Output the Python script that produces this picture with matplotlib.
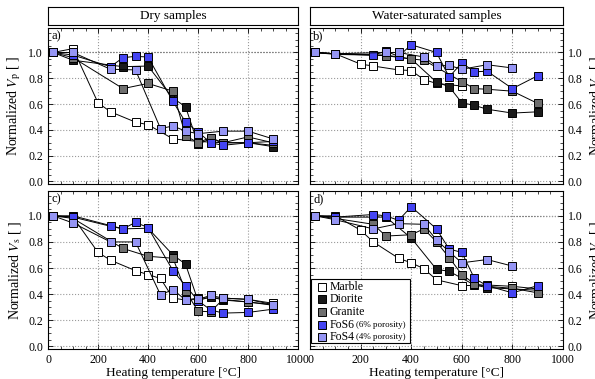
import numpy as np
import matplotlib.pyplot as plt
from matplotlib.ticker import MultipleLocator
from matplotlib.patches import Rectangle

plt.rcParams['font.family'] = ['Liberation Serif', 'DejaVu Serif']
plt.rcParams['mathtext.fontset'] = 'stix'

names = ['Marble', 'Diorite', 'Granite', 'FoS6', 'FoS4']
extra = ['', '', '', '(6% porosity)', '(4% porosity)']
colors = ['#ffffff', '#1a1a1a', '#6e6e6e', '#4444f2', '#9595f4']

# a) dry, Vp
dry_vp = {
    'Marble': ([20, 100, 200, 250, 350, 400, 500, 600, 700, 800, 900],
               [1.0, 1.03, 0.61, 0.54, 0.46, 0.44, 0.33, 0.31, 0.30, 0.30, 0.28]),
    'Diorite': ([20, 100, 300, 400, 500, 550, 600, 650, 700, 800, 900],
                [1.0, 0.94, 0.89, 0.895, 0.645, 0.58, 0.29, 0.33, 0.30, 0.30, 0.27]),
    'Granite': ([20, 100, 300, 400, 500, 550, 600, 650, 700, 800, 900],
                [1.0, 0.96, 0.72, 0.76, 0.70, 0.355, 0.30, 0.34, 0.30, 0.345, 0.30]),
    'FoS6': ([20, 100, 250, 300, 350, 400, 500, 550, 600, 650, 700, 800, 900],
             [1.0, 0.98, 0.89, 0.96, 0.97, 0.965, 0.62, 0.46, 0.385, 0.30, 0.28, 0.30, 0.31]),
    'FoS4': ([20, 100, 250, 350, 450, 500, 550, 600, 700, 800, 900],
             [1.0, 1.0, 0.87, 0.865, 0.41, 0.43, 0.39, 0.37, 0.39, 0.39, 0.33]),
}
# b) water-saturated, Vp
wet_vp = {
    'Marble': ([20, 100, 200, 250, 350, 400, 450, 500, 600],
               [1.0, 0.99, 0.91, 0.895, 0.865, 0.86, 0.79, 0.76, 0.74]),
    'Diorite': ([20, 100, 300, 400, 500, 550, 600, 650, 700, 800, 900],
                [1.0, 0.99, 0.98, 0.95, 0.77, 0.735, 0.61, 0.59, 0.56, 0.53, 0.54]),
    'Granite': ([20, 100, 300, 400, 450, 600, 650, 700, 800, 900],
                [1.0, 0.99, 0.975, 0.95, 0.94, 0.775, 0.72, 0.715, 0.70, 0.605]),
    'FoS6': ([20, 100, 250, 300, 350, 400, 500, 550, 600, 650, 700, 800, 900],
             [1.0, 0.985, 0.98, 1.01, 0.97, 1.06, 1.0, 0.81, 0.92, 0.85, 0.855, 0.72, 0.82]),
    'FoS4': ([20, 100, 300, 350, 450, 500, 550, 600, 700, 800],
             [1.0, 0.99, 1.0, 1.0, 0.965, 0.895, 0.90, 0.87, 0.905, 0.88]),
}
# c) dry, Vs
dry_vs = {
    'Marble': ([20, 100, 200, 250, 350, 400, 450, 500, 550, 600, 700, 800, 900],
               [1.0, 0.99, 0.72, 0.66, 0.58, 0.55, 0.52, 0.37, 0.355, 0.37, 0.37, 0.36, 0.33]),
    'Diorite': ([20, 100, 300, 400, 500, 550, 600, 650, 700, 800, 900],
                [1.0, 1.0, 0.90, 0.905, 0.70, 0.63, 0.35, 0.38, 0.355, 0.34, 0.315]),
    'Granite': ([20, 100, 300, 400, 500, 550, 600, 650, 700, 800, 900],
                [1.0, 0.98, 0.75, 0.69, 0.675, 0.425, 0.27, 0.265, 0.36, 0.34, 0.32]),
    'FoS6': ([20, 100, 250, 300, 350, 400, 500, 550, 600, 650, 700, 800, 900],
             [1.0, 0.99, 0.92, 0.90, 0.95, 0.91, 0.58, 0.465, 0.35, 0.28, 0.255, 0.26, 0.285]),
    'FoS4': ([20, 100, 250, 350, 450, 500, 550, 600, 650, 700, 800, 900],
             [1.0, 0.945, 0.80, 0.80, 0.395, 0.435, 0.355, 0.36, 0.39, 0.37, 0.36, 0.32]),
}
# d) water-saturated, Vs
wet_vs = {
    'Marble': ([20, 100, 200, 250, 350, 400, 450, 500, 600, 700, 800, 900],
               [1.0, 1.0, 0.89, 0.80, 0.675, 0.64, 0.595, 0.51, 0.465, 0.47, 0.46, 0.44]),
    'Diorite': ([20, 100, 300, 400, 500, 550, 650, 700, 800, 900],
                [1.0, 0.99, 0.99, 0.83, 0.59, 0.575, 0.47, 0.45, 0.44, 0.43]),
    'Granite': ([20, 100, 250, 300, 400, 450, 500, 550, 600, 650, 700, 800, 900],
                [1.0, 0.98, 0.935, 0.845, 0.855, 0.90, 0.80, 0.68, 0.55, 0.48, 0.46, 0.445, 0.41]),
    'FoS6': ([20, 100, 250, 300, 350, 400, 500, 550, 600, 650, 700, 800, 900],
             [1.0, 0.99, 1.01, 1.0, 0.965, 1.07, 0.90, 0.745, 0.72, 0.52, 0.465, 0.41, 0.465]),
    'FoS4': ([20, 100, 250, 350, 450, 500, 550, 600, 700, 800],
             [1.0, 0.97, 0.90, 0.94, 0.935, 0.815, 0.725, 0.64, 0.665, 0.615]),
}

fig = plt.figure(figsize=(5.95, 3.79), dpi=100)
W, H = 595, 379

def px_axes(x0, y0, x1, y1):
    return fig.add_axes([x0 / W, 1 - y1 / H, (x1 - x0) / W, (y1 - y0) / H])

ax_a = px_axes(48, 28, 298, 184)
ax_b = px_axes(310, 28, 563, 184)
ax_c = px_axes(48, 191, 298, 349)
ax_d = px_axes(310, 191, 563, 349)

panels = [(ax_a, dry_vp, 'a)'), (ax_b, wet_vp, 'b)'), (ax_c, dry_vs, 'c)'), (ax_d, wet_vs, 'd)')]

for ax, data, tag in panels:
    ax.set_xlim(0, 1000)
    ax.set_ylim(-0.02, 1.19)
    ax.xaxis.set_major_locator(MultipleLocator(200))
    ax.xaxis.set_minor_locator(MultipleLocator(50))
    ax.yaxis.set_major_locator(MultipleLocator(0.2))
    ax.yaxis.set_minor_locator(MultipleLocator(0.05))
    ax.tick_params(which='both', direction='in', top=True, right=True, labelsize=8.5)
    ax.tick_params(which='major', length=3.5, width=0.6)
    ax.tick_params(which='minor', length=2, width=0.5)
    ax.grid(True, which='major', color='#9a9a9a', linestyle=':', linewidth=0.8)
    ax.axhline(1.0, color='black', linestyle=':', linewidth=0.8, zorder=1)
    for sp in ax.spines.values():
        sp.set_linewidth(0.8)
    for name, col in zip(names, colors):
        t, v = data[name]
        ax.plot(t, v, '-s', color='black', lw=0.7, mfc=col, mec='black', mew=0.7,
                ms=5.2, label=name, zorder=3)
    ax.text(0.012, 0.985, tag, transform=ax.transAxes, ha='left', va='top', fontsize=9)
    ax.yaxis.set_major_formatter(plt.FuncFormatter(lambda y, p: f'{y:.1f}'))

for ax in (ax_a, ax_b):
    ax.tick_params(labelbottom=False)
for ax in (ax_c, ax_d):
    ax.set_xlabel('Heating temperature [°C]', fontsize=9.5, labelpad=1)
for ax in (ax_b, ax_d):
    ax.tick_params(labelleft=False, labelright=True)
    ax.yaxis.set_label_position('right')

ax_a.set_ylabel(r'Normalized $V_\mathrm{p}$ [ ]', fontsize=10, labelpad=4)
ax_c.set_ylabel(r'Normalized $V_\mathrm{s}$ [ ]', fontsize=10, labelpad=4)
ax_b.set_ylabel(r'Normalized $V_\mathrm{p}$ [ ]', fontsize=10, labelpad=4)
ax_d.set_ylabel(r'Normalized $V_\mathrm{s}$ [ ]', fontsize=10, labelpad=4)

# header boxes
for x0, x1, title in [(48, 298, 'Dry samples'), (310, 563, 'Water-saturated samples')]:
    hb = px_axes(x0, 7, x1, 25)
    hb.set_xticks([])
    hb.set_yticks([])
    for sp in hb.spines.values():
        sp.set_linewidth(0.8)
    hb.text(0.5, 0.5, title, ha='center', va='center', fontsize=9.5, transform=hb.transAxes)

# hand-built legend in panel d (lower left)
ax_d.add_patch(Rectangle((0.004, 0.038), 0.392, 0.405, transform=ax_d.transAxes,
                         facecolor='white', edgecolor='black', lw=0.8, zorder=8))
row_y = [0.393, 0.317, 0.234, 0.152, 0.076]
for name, ex, col, ry in zip(names, extra, colors, row_y):
    ax_d.plot([0.048], [ry], 's', mfc=col, mec='black', mew=0.7, ms=5.2,
              transform=ax_d.transAxes, zorder=9, clip_on=False)
    ax_d.text(0.078, ry, name, transform=ax_d.transAxes, fontsize=8.5, ha='left',
              va='center', zorder=10)
    if ex:
        ax_d.text(0.182, ry, ex, transform=ax_d.transAxes, fontsize=6.5, ha='left',
                  va='center', zorder=10)

fig.savefig('out.png', dpi=100)
